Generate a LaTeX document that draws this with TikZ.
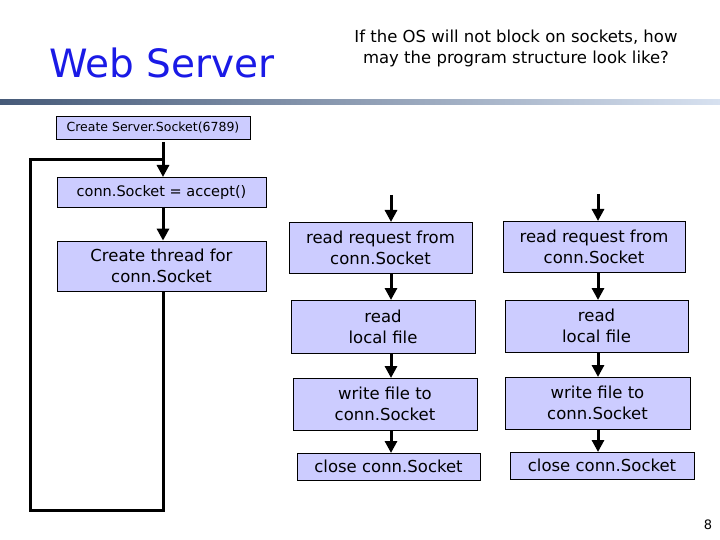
\documentclass[tikz,border=0pt]{standalone}
\usepackage{fontspec}
\setmainfont{DejaVu Sans}
\usetikzlibrary{arrows.meta}
\definecolor{boxc}{HTML}{CCCCFF}
\definecolor{titc}{HTML}{1A1AE6}
\begin{document}
\begin{tikzpicture}[x=1pt,y=-1pt,
  box/.style={draw=black,fill=boxc,line width=0.8pt,inner sep=0pt,align=center,font=\fontsize{16.5}{21}\selectfont},
  arr/.style={-{Triangle[length=12pt,width=12pt]},line width=3pt},
  ln/.style={line width=3pt}]
\useasboundingbox (0,0) rectangle (720,540);
\node[text=titc,font=\fontsize{39}{42}\selectfont] (title) at (162,63) {Web Server};
\node[align=center,font=\fontsize{16.5}{21}\selectfont] (q) at (516,48) {If the OS will not block on sockets, how\\may the program structure look like?};
\shade[left color={rgb,255:red,70;green,90;blue,120},right color={rgb,255:red,215;green,225;blue,240}] (0,100) rectangle (720,105);
\node[box,minimum width=194pt,minimum height=23pt,font=\fontsize{12.5}{14}\selectfont] (ss) at (153,127.5) {Create Server.Socket(6789)};
\node[box,minimum width=209pt,minimum height=30pt,font=\fontsize{14.5}{17}\selectfont] (ac) at (161.5,192) {conn.Socket = accept()};
\node[box,minimum width=209pt,minimum height=50pt] (th) at (161.5,266) {Create thread for\\conn.Socket};
\coordinate (j) at (163,160);
\draw[arr] (163,142) -- (163,177);
\draw[arr] (163,207) -- (th.north -| 163,0);
\draw[ln] (th.south -| 163,0) -- (163,510) -- (30,510) -- (30,160) -- (j);
% column 1
\node[box,minimum width=183pt,minimum height=51pt] (a1) at (380.5,247.5) {read request from\\conn.Socket};
\node[box,minimum width=184pt,minimum height=53pt] (a2) at (383,326.5) {read\\local file};
\node[box,minimum width=184pt,minimum height=52pt] (a3) at (385,404) {write file to\\conn.Socket};
\node[box,minimum width=183pt,minimum height=27pt] (a4) at (388.5,466.5) {close conn.Socket};
\coordinate (s1) at (391,195);
\draw[arr] (s1) -- (391,222);
\draw[arr] (391,273) -- (391,300);
\draw[arr] (391,353) -- (391,378);
\draw[arr] (391,430) -- (391,453);
% column 2
\node[box,minimum width=182pt,minimum height=51pt] (b1) at (594,246.5) {read request from\\conn.Socket};
\node[box,minimum width=183pt,minimum height=52pt] (b2) at (596.5,326) {read\\local file};
\node[box,minimum width=185pt,minimum height=52pt] (b3) at (597.5,403) {write file to\\conn.Socket};
\node[box,minimum width=184pt,minimum height=27pt] (b4) at (602,465.5) {close conn.Socket};
\coordinate (s2) at (598,194);
\draw[arr] (s2) -- (598,221);
\draw[arr] (598,272) -- (598,300);
\draw[arr] (598,352) -- (598,377);
\draw[arr] (598,429) -- (598,452);
\node[font=\fontsize{13}{15}\selectfont] (pg) at (708,525) {8};
\end{tikzpicture}
\end{document}
